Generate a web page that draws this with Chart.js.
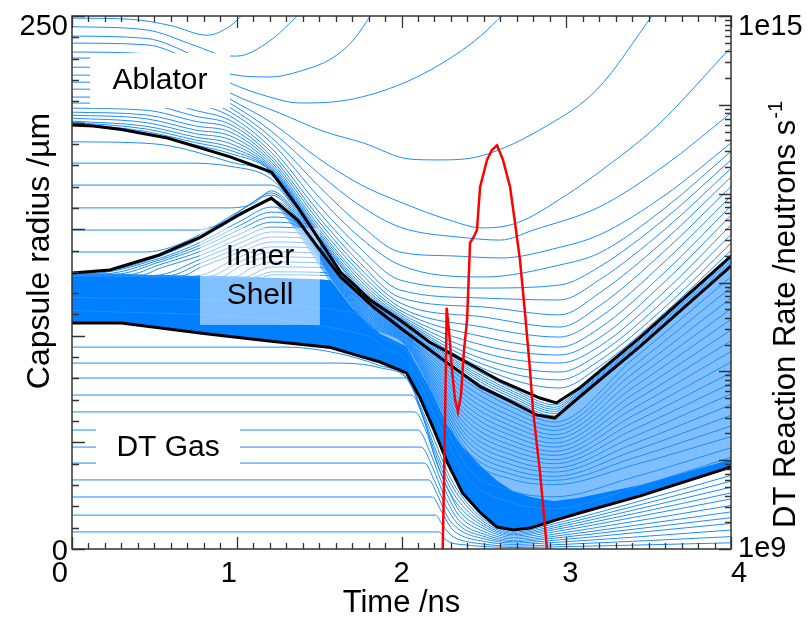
<!DOCTYPE html>
<html>
<head>
<meta charset="utf-8">
<title>Capsule implosion radius-time diagram</title>
<script src="https://cdn.jsdelivr.net/npm/chart.js@4.4.1/dist/chart.umd.min.js"></script>
<style>
  html, body { margin: 0; padding: 0; background: #fff; }
  #wrap { width: 806px; height: 617px; }
</style>
</head>
<body>
<div id="wrap"><canvas id="chart" width="806" height="617"></canvas></div>
<script>
// ---- Lagrangian cell boundaries, each as [time (ns), radius (µm)] pairs ----

// Ablator cells (outermost first)
const ablatorLines = [
  [[0,249],[0.35,248.5],[0.6,245.5],[0.82,241],[0.96,245.3],[1.04,251]],
  [[0,245],[0.45,243.5],[0.75,236],[0.92,231.5],[1.0,231.2],[1.2,238.3],[1.38,251]],
  [[0,240.6],[0.45,239.5],[0.75,231],[0.96,222.8],[1.2,221.4],[1.4,224.5],[1.57,229.8],[1.7,238],[1.82,251]],
  [[0,237.3],[0.45,236.5],[0.75,228],[0.96,218.6],[1.2,212],[1.38,209.2],[1.63,210.1],[1.97,217.2],[2.25,228],[2.48,240.6],[2.62,251]],
  [[0,233.1],[0.45,232.3],[0.75,224],[0.96,213.9],[1.26,204.5],[1.52,196.1],[1.77,190.4],[2.05,182.9],[2.22,182.5],[2.48,184.3],[2.88,198.4],[3.19,215.8],[3.53,251]],
  [[0,230.3],[0.45,229.5],[0.75,221],[0.96,211],[1.21,200],[1.5,183],[1.75,171],[1.99,162.8],[2.29,154.3],[2.49,150.6],[2.7,152.9],[3.0,166],[3.2,176.8],[3.55,198.4],[3.99,234.5]],
  [[0,226],[0.45,225.3],[0.75,217.5],[0.96,209],[1.21,196],[1.5,176],[1.75,161],[1.99,151],[2.4,145.9],[2.6,144.9],[2.8,149.6],[3.2,160.4],[3.6,180],[4.0,204.5]],
  [[0,222.3],[0.45,221.6],[0.75,214.5],[0.96,207],[1.21,193],[1.5,170],[1.75,152],[1.99,139.3],[2.3,137.5],[2.6,136.5],[2.96,141.5],[3.2,147.3],[3.6,166],[4.0,190.4]]
];

// Inner ablator cells sampled on a shared time grid
const ablatorTimes = [0, 0.45, 0.75, 0.96, 1.21, 1.5, 1.75, 1.99, 2.5, 2.96, 3.2, 3.6, 4.0];
const ablatorInner = [
  [219,   218.3, 212,   205,   190.5, 165,   146,   133.2, 127.6, 133.2, 138.8, 160,   186.5],
  [215.7, 215,   209,   203,   188,   161,   141,   126.2, 122.4, 123.8, 132.3, 155,   182.5],
  [212,   211.3, 205.7, 201,   186,   158,   137,   121.5, 117.7, 116.8, 126.2, 150,   178.5],
  [209.2, 208.4, 203,   199.2, 184.3, 155.5, 134,   118,   113.5, 109.8, 120,   145,   174.5],
  [206.8, 205.8, 200.6, 197.4, 182.8, 153.5, 131.5, 115.5, 108.8, 104.1, 114,   140,   170],
  [204.9, 203.6, 198.4, 195.6, 181.5, 151.5, 129.5, 113.5, 104,   99.4,  108.5, 135,   165.5],
  [203.5, 201.8, 196.5, 193.8, 180.3, 150,   127.5, 112,   99.5,  94.7,  103.5, 130,   161],
  [202.1, 200,   194.8, 192,   179.3, 148.8, 126,   110.8, 95.5,  91,    99,    125.5, 156.5],
  [200.7, 198.3, 193.2, 190.2, 178.5, 147.8, 124.5, 109.8, 92,    87.2,  95,    121,   152],
  [200.2, 197,   191.8, 188.5, 177.9, 147,   123.3, 109,   89,    83,    91.5,  117,   147.5],
  [199.8, 195.8, 190.6, 187,   177.4, 146.3, 122.3, 108.4, 86.5,  79.3,  88.3,  113.5, 143.5],
  [199.4, 194.7, 189.5, 185.5, 177.1, 145.8, 121.6, 107.9, 84.5,  75.5,  85.5,  111,   140]
];

// Low-density cushion between ablator and inner shell
const cushionLines = [
  [[0,191],[0.4,190.5],[0.6,189],[0.96,181.5],[1.21,175.5],[1.37,159.5],[1.49,145.6],[1.63,129.6],[1.83,115.5],[2.01,105.8],[2.28,91.7],[2.48,82.8],[2.68,75.0],[2.93,67.6],[3.08,74.9],[3.45,98.8],[4,136.7]],
  [[0,181],[0.7,181],[0.96,179.5],[1.21,173.5],[1.37,158.7],[1.49,145.0],[1.63,129.2],[1.83,115.1],[2.01,105.3],[2.28,90.9],[2.48,81.6],[2.68,73.9],[2.93,66.5],[3.08,74.3],[3.45,98.2],[4,136.1]],
  [[0,170.7],[0.9,170.7],[1.21,170.7],[1.37,157.8],[1.49,144.3],[1.63,128.9],[1.83,114.8],[2.01,104.8],[2.28,90.2],[2.48,80.5],[2.68,72.9],[2.93,65.5],[3.08,73.7],[3.45,97.6],[4,135.4]],
  [[0,160],[0.95,160],[1.1,162],[1.21,168],[1.37,156.9],[1.49,143.7],[1.63,128.6],[1.83,114.5],[2.01,104.2],[2.28,89.4],[2.48,79.4],[2.68,71.8],[2.93,64.5],[3.08,73.1],[3.45,97],[4,134.7]],
  [[0,149.6],[0.75,149.6],[0.9,152.5],[1.05,160],[1.21,167],[1.37,156],[1.49,143],[1.63,128.3],[1.83,114.2],[2.01,103.7],[2.28,88.7],[2.48,78.3],[2.68,70.7],[2.93,63.5],[3.08,72.5],[3.45,96.4],[4,134]],
  [[0,139.3],[0.45,139.3],[0.6,141.5],[0.8,148.5],[1.0,157.8],[1.21,166],[1.37,155.2],[1.49,142.4],[1.63,127.9],[1.83,113.8],[2.01,103.2],[2.28,87.9],[2.48,77.1],[2.68,69.6],[2.93,62.4],[3.08,71.9],[3.45,95.8],[4,133.4]]
];

// Inner shell cells that expand out of the dense layer
const shellLines = [
  [[0,129.4],[0.23,130.6],[0.53,137.3],[0.78,145.6],[1.02,156.3],[1.21,163.7],[1.6,130.2],[1.8,115.0],[2.03,101.2],[2.2,90.6],[2.4,78.2],[2.68,66.3],[2.93,59.5],[3.4,88.7],[4,127.7]],
  [[0,129.3],[0.1,129.2],[0.53,136.3],[0.78,143.9],[1.02,153.7],[1.21,160.4],[1.25,160.1],[1.6,129.8],[1.8,114.3],[2.03,100.8],[2.2,89.3],[2.4,75.9],[2.68,64.0],[2.93,57.5],[3.4,85.4],[4,122.7]],
  [[0,129.2],[0.18,129],[0.53,135.5],[0.78,142.6],[1.02,151.8],[1.21,158],[1.273,157.7],[1.6,129.3],[1.8,113.7],[2.03,100.4],[2.2,88.1],[2.4,73.6],[2.68,61.8],[2.93,55.6],[3.4,82.1],[4,117.7]],
  [[0,129.1],[0.26,128.9],[0.53,134.6],[0.78,141.3],[1.02,149.9],[1.21,155.7],[1.296,155.4],[1.6,128.9],[1.8,113],[2.03,100],[2.2,86.8],[2.4,71.3],[2.68,59.5],[2.93,53.6],[3.4,78.8],[4,112.7]],
  [[0,129],[0.34,128.7],[0.53,133.3],[0.78,139.6],[1.02,147.8],[1.21,153.3],[1.319,153],[1.6,128.5],[1.8,112.4],[2.03,99.6],[2.2,85.6],[2.4,69],[2.68,57.3],[2.93,51.7],[3.4,75.5],[4,107.7]],
  [[0,128.9],[0.42,128.5],[0.53,131.6],[0.78,137.7],[1.02,145.6],[1.21,151],[1.341,150.7],[1.6,128.1],[1.8,111.7],[2.03,99.2],[2.2,84.3],[2.4,66.7],[2.68,55],[2.93,49.7],[3.4,72.2],[4,102.7]],
  [[0,128.8],[0.5,128.3],[0.78,135.9],[1.02,143.5],[1.21,148.7],[1.363,148.4],[1.6,127.7],[1.8,111.1],[2.03,98.8],[2.2,83.1],[2.4,64.4],[2.68,52.8],[2.93,47.8],[3.4,68.9],[4,97.7]],
  [[0,128.7],[0.58,128.2],[0.78,134],[1.02,141.3],[1.21,146.3],[1.386,146],[1.6,127.2],[1.8,110.4],[2.03,98.4],[2.2,81.8],[2.4,62.1],[2.68,50.5],[2.93,45.8],[3.4,65.6],[4,92.7]],
  [[0,128.6],[0.66,128],[0.78,132.1],[1.02,139.2],[1.21,144],[1.408,143.7],[1.6,126.8],[1.8,109.8],[2.03,98],[2.2,80.6],[2.4,59.8],[2.68,48.3],[2.93,43.9],[3.4,62.3],[4,87.7]],
  [[0,128.5],[0.74,127.9],[1.02,137.1],[1.21,141.7],[1.43,141.4],[1.6,126.4],[1.8,109.1],[2.03,97.6],[2.2,79.3],[2.4,57.5],[2.68,46],[2.93,41.9],[3.4,59],[4,82.7]],
  [[0,128.4],[0.82,127.8],[1.02,134.8],[1.21,139.3],[1.453,139],[1.6,126],[1.8,108.5],[2.03,97.2],[2.2,78.1],[2.4,55.2],[2.68,43.8],[2.93,40],[3.4,55.7],[4,77.7]],
  [[0,128.3],[0.9,127.7],[1.02,132.6],[1.21,137],[1.475,136.7],[1.6,125.6],[1.8,107.8],[2.03,96.8],[2.2,76.8],[2.4,52.9],[2.68,41.5],[2.93,38],[3.4,52.4],[4,72.7]],
  [[0,128.2],[0.98,127.6],[1.1,132.2],[1.21,134.6],[1.498,134.3],[1.6,125.1],[1.8,107.2],[2.03,96.4],[2.2,75.6],[2.4,50.6],[2.68,39.3],[2.93,36.1],[3.4,49.1],[4,67.7]],
  [[0,128.1],[1.04,127.5],[1.21,132.3],[1.52,132],[1.6,124.7],[1.8,106.5],[2.03,96],[2.2,74.3],[2.4,48.3],[2.68,37],[2.93,34.1],[3.4,45.8],[4,62.7]],
  [[0,128],[1.1,127.4],[1.21,130],[1.542,129.7],[1.6,124.3],[1.8,105.9],[2.03,95.6],[2.2,73.1],[2.4,46],[2.68,34.8],[2.93,32.2],[3.4,42.5],[4,57.7]],
  [[0,127.9],[1.15,127.3],[1.21,128.6],[1.556,128.3],[1.6,123.9],[1.8,105.2],[2.03,95.2],[2.2,71.8],[2.4,43.7],[2.68,32.5],[2.93,30.2],[3.4,39.2],[4,52.7]],
  [[0,118],[1.7,111],[1.87,99.5],[2.03,92.5],[2.2,68],[2.4,38.5],[2.68,27],[2.93,24.5],[3.4,33.5],[4,47.5]],
  [[0,112],[1.8,100],[1.9,94],[2.03,89],[2.2,63],[2.4,33.5],[2.68,21.5],[2.93,19],[3.4,28.5],[4,43]]
];

// DT gas cells
const gasLines = [
  [[0,94.7],[1.3,94.7],[1.6,92],[1.87,86],[2.03,80.5],[2.11,68],[2.2,51],[2.28,36],[2.35,26.5],[2.5,13.9],[2.68,7.9],[2.93,11.9],[3.4,21.5],[4,34.5]],
  [[0,87.2],[1.6,87.2],[1.87,85],[2.04,79],[2.12,65],[2.2,48],[2.28,33.5],[2.35,24.5],[2.5,12.8],[2.68,7.3],[2.93,10.9],[3.4,19.8],[4,31.8]],
  [[0,80.2],[2.04,80.2],[2.12,64],[2.2,46],[2.28,31],[2.35,22.2],[2.5,11.7],[2.68,6.7],[2.93,10],[3.4,18.1],[4,29]],
  [[0,72.2],[2.06,72.2],[2.13,62],[2.2,44],[2.28,28.5],[2.35,20],[2.5,10.6],[2.68,6.1],[2.93,9.1],[3.4,16.4],[4,26.3]],
  [[0,64.3],[2.08,64.3],[2.15,55],[2.22,39],[2.3,25],[2.35,18],[2.5,9.5],[2.68,5.4],[2.93,8.1],[3.4,14.7],[4,23.5]],
  [[0,55.8],[2.1,55.8],[2.17,46],[2.24,32],[2.3,22],[2.35,15.6],[2.5,8.2],[2.68,4.7],[2.93,7],[3.4,12.8],[4,20.4]],
  [[0,47.8],[2.12,47.8],[2.19,38],[2.26,25],[2.35,13.3],[2.5,7],[2.68,4],[2.93,6],[3.4,10.9],[4,17.4]],
  [[0,40.3],[2.14,40.3],[2.2,32],[2.27,20],[2.35,11.2],[2.5,5.9],[2.68,3.4],[2.93,5.1],[3.4,9.2],[4,14.7]],
  [[0,32.4],[2.165,32.4],[2.22,25],[2.28,15],[2.35,9.1],[2.5,4.8],[2.68,2.8],[2.93,4.1],[3.4,7.5],[4,12]],
  [[0,24.4],[2.186,24.4],[2.24,18],[2.3,10],[2.35,6.8],[2.5,3.6],[2.68,2.1],[2.93,3.1],[3.4,5.5],[4,8.9]],
  [[0,15.9],[2.207,15.9],[2.25,11],[2.3,6.5],[2.35,4.4],[2.5,2.3],[2.68,1.3],[2.93,2],[3.4,3.6],[4,5.8]],
  [[0,8],[2.229,8],[2.26,5],[2.3,3],[2.35,2.2],[2.5,1.2],[2.68,0.7],[2.93,1],[3.4,1.8],[4,2.9]]
];

// Material interfaces (bold curves)
const ablatorInterface = [[0,198.9],[0.13,198.4],[0.3,196.8],[0.58,192.8],[0.96,183.9],[1.21,176.8],[1.37,160.4],[1.49,146.3],[1.63,129.9],[1.81,116.8],[1.99,107.4],[2.17,97.1],[2.39,87.7],[2.6,78.8],[2.84,70.8],[2.94,68.5],[3.08,75.5],[3.45,99.4],[4.0,137.4]];
const shellOuter = [[0,129.5],[0.23,130.9],[0.53,137.9],[0.78,146.3],[1.02,157.1],[1.21,164.6],[1.37,154.3],[1.49,141.7],[1.63,127.6],[1.83,113.5],[2.01,102.7],[2.28,87.2],[2.48,76.0],[2.68,68.5],[2.82,62.9],[2.93,61.4],[3.08,71.3],[3.45,95.2],[4.0,132.7]];

// Gas/shell interface and the dense shell core, on a common time grid
const coreTimes  = [0, 0.3, 0.8, 1.21, 1.5, 1.57, 1.7, 1.87, 2.03, 2.11, 2.19, 2.28, 2.37, 2.48, 2.58, 2.68, 2.78, 2.88, 2.93, 3.08, 3.45, 4.0];
const shellInner = [106, 106, 101.1, 97.4, 95.1, 94.5, 91.5, 87.7, 82.6, 71.3, 57.2, 40.3, 26.3, 16.9, 10.3, 8.9, 9.8, 12.2, 13.4, 16.9, 24.9, 38.5];
const coreTop    = [129.5, 128.8, 127.8, 127.2, 126.5, 126, 113, 101, 95, 84, 72.5, 58, 48, 39, 32, 27, 24.5, 23, 22.5, 24, 30, 42];

// Compressed shell layer behind the inward shock
const layerTimes = [1.21, 1.37, 1.49, 1.57, 1.7, 1.87, 2.03, 2.11, 2.19, 2.28, 2.37, 2.48, 2.58, 2.68, 2.78, 2.88, 2.93, 3.08, 3.45, 4.0];
const layerOuter = [164.6, 154.3, 141.7, 133.6, 122.7, 111.1, 101.6, 97, 92.4, 87.2, 82.2, 76, 72.3, 68.5, 64.5, 62.1, 61.4, 71.3, 95.2, 132.7];
const layerInner = [164.6, 148, 134, 124.5, 110.5, 99, 93.5, 82.5, 71, 56.5, 46.5, 37.5, 30.5, 25.5, 23, 21.5, 21, 22.5, 28.5, 40.5];

// DT reaction rate (neutrons/s)
const burnTime = [2.249, 2.258, 2.270, 2.274, 2.288, 2.307, 2.325, 2.343, 2.361, 2.379, 2.398, 2.410, 2.416, 2.440, 2.458, 2.477, 2.519, 2.549, 2.580, 2.616, 2.659, 2.689, 2.719, 2.750, 2.780, 2.798, 2.841, 2.883, 2.890];
const burnRate = [7.5e8, 6e9, 1.34e11, 5.2e11, 2.9e11, 1.0e11, 4.8e10, 3.5e10, 5.4e10, 1.7e11, 3.8e11, 1.4e12, 2.8e12, 3.3e12, 3.9e12, 1.19e13, 2.4e13, 3.1e13, 3.5e13, 2.4e13, 1.19e13, 4.7e12, 1.8e12, 4.5e11, 1.04e11, 3.7e10, 7.2e9, 1e9, 7.5e8];

// Region labels: text lines, box (t0, t1, r0, r1), box opacity
const regionLabels = [
  { lines: ['Ablator'], box: [0.109, 0.959, 206.8, 232.6], alpha: 1 },
  { lines: ['Inner', 'Shell'], box: [0.777, 1.505, 105.1, 150.6], alpha: 0.5 },
  { lines: ['DT Gas'], box: [0.146, 1.02, 35.2, 59.6], alpha: 1 }
];

// axis tick labels
const timeLabels = { 0: '0   ', 1: '1  ', 2: '2', 3: ' 3', 4: '  4' };
const radiusLabels = { 0: '0', 250: ['', '250'] };

const FONT = '"Liberation Sans", Arial, Helvetica, sans-serif';
const BLUE = 'rgb(30,140,255)';
const CORE = 'rgb(0,128,255)';

const toPts = arr => arr.map(([t, r]) => ({ x: t, y: r }));
const zipPts = (ts, rs) => ts.map((t, i) => ({ x: t, y: rs[i] }));

const datasets = [];
function addLine(points, opts) {
  datasets.push(Object.assign({
    data: points, yAxisID: 'y', borderColor: BLUE, borderWidth: 1,
    pointRadius: 0, fill: false, cubicInterpolationMode: 'monotone', order: 40
  }, opts || {}));
  return datasets.length - 1;
}
const straight = { tension: 0, cubicInterpolationMode: 'default' };
const hidden = { borderWidth: 0, borderColor: 'rgba(0,0,0,0)' };

// bold gas/shell interface first so the fills can target it
const innerIdx = addLine(zipPts(coreTimes, shellInner), Object.assign({ borderColor: '#000', borderWidth: 3, order: 20 }, straight));
addLine(zipPts(coreTimes, coreTop), Object.assign({ backgroundColor: CORE, fill: { target: innerIdx }, order: 50 }, hidden, straight));
const layerLowIdx = addLine(zipPts(layerTimes, layerInner), Object.assign({ order: 52 }, hidden, straight));
addLine(zipPts(layerTimes, layerOuter), Object.assign({ backgroundColor: 'rgba(0,128,255,0.5)', fill: { target: layerLowIdx }, order: 51 }, hidden, straight));

ablatorLines.forEach(l => addLine(toPts(l)));
ablatorInner.forEach(rs => addLine(zipPts(ablatorTimes, rs)));
cushionLines.forEach(l => addLine(toPts(l)));
shellLines.forEach(l => addLine(toPts(l)));
gasLines.forEach(l => addLine(toPts(l)));

// marker dataset: region labels are painted right after it
datasets.push({ label: 'region-labels', data: [], yAxisID: 'y', order: 30, pointRadius: 0, borderWidth: 0 });

addLine(toPts(ablatorInterface), Object.assign({ borderColor: '#000', borderWidth: 3, order: 20 }, straight));
addLine(toPts(shellOuter), Object.assign({ borderColor: '#000', borderWidth: 3, order: 20 }, straight));

addLine(zipPts(burnTime, burnRate), Object.assign({ yAxisID: 'y2', borderColor: 'rgb(255,0,0)', borderWidth: 2.5, order: 5 }, straight));

const regionLabelPlugin = {
  id: 'regionLabels',
  afterDatasetDraw(chart, args) {
    if (chart.data.datasets[args.index].label !== 'region-labels') return;
    const { ctx, scales: { x, y } } = chart;
    ctx.save();
    regionLabels.forEach(lab => {
      const [t0, t1, r0, r1] = lab.box;
      const x0 = x.getPixelForValue(t0), x1 = x.getPixelForValue(t1);
      const y0 = y.getPixelForValue(r1), y1 = y.getPixelForValue(r0);
      ctx.fillStyle = `rgba(255,255,255,${lab.alpha})`;
      ctx.fillRect(x0, y0, x1 - x0, y1 - y0);
      ctx.fillStyle = '#000';
      ctx.font = `30px ${FONT}`;
      ctx.textAlign = 'center';
      ctx.textBaseline = 'middle';
      const cx = (x0 + x1) / 2, cy = (y0 + y1) / 2;
      const step = 39;
      lab.lines.forEach((s, i) => {
        ctx.fillText(s, cx, cy + (i - (lab.lines.length - 1) / 2) * step);
      });
    });
    ctx.restore();
  }
};

const frameAndTitles = {
  id: 'frameAndTitles',
  afterDraw(chart) {
    const { ctx, chartArea: a, scales } = chart;
    ctx.save();
    ctx.strokeStyle = '#333';
    ctx.lineWidth = 1.3;
    ctx.beginPath();
    for (let k = 0; k <= 40; k++) {
      const px = Math.round(scales.x.getPixelForValue(k / 10)) + 0.5;
      const len = k % 10 === 0 ? 12 : 6;
      ctx.moveTo(px, a.bottom); ctx.lineTo(px, a.bottom - len);
      ctx.moveTo(px, a.top); ctx.lineTo(px, a.top + len);
    }
    for (let k = 0; k <= 25; k++) {
      const py = Math.round(scales.y.getPixelForValue(k * 10)) + 0.5;
      const len = k % 5 === 0 ? 13 : 7;
      ctx.moveTo(a.left, py); ctx.lineTo(a.left + len, py);
    }
    for (let e = 9; e <= 15; e++) {
      for (let m = 1; m <= 9; m++) {
        if (e === 15 && m > 1) break;
        const py = Math.round(scales.y2.getPixelForValue(m * Math.pow(10, e))) + 0.5;
        const len = m === 1 ? 12 : 6;
        ctx.moveTo(a.right, py); ctx.lineTo(a.right - len, py);
      }
    }
    ctx.stroke();
    ctx.lineWidth = 1.5;
    ctx.strokeRect(a.left, a.top, a.right - a.left, a.bottom - a.top);

    // axis titles
    ctx.fillStyle = '#000';
    ctx.font = `31px ${FONT}`;
    ctx.textAlign = 'center';
    ctx.textBaseline = 'middle';
    ctx.fillText('Time /ns', (a.left + a.right) / 2, 603);

    ctx.save();
    ctx.translate(40, 251);
    ctx.rotate(-Math.PI / 2);
    ctx.font = `32px ${FONT}`;
    ctx.fillText('Capsule radius /\u00B5m', 0, 0);
    ctx.restore();

    ctx.save();
    ctx.translate(786, 528);
    ctx.rotate(-Math.PI / 2);
    ctx.textAlign = 'left';
    const main = 'DT Reaction Rate /neutrons s';
    ctx.fillText(main, 0, 0);
    const w = ctx.measureText(main).width;
    ctx.font = `20px ${FONT}`;
    ctx.fillText('-1', w + 1, -10);
    ctx.restore();

    ctx.restore();
  }
};

new Chart(document.getElementById('chart'), {
  type: 'line',
  data: { datasets },
  options: {
    responsive: false,
    devicePixelRatio: 1,
    animation: false,
    events: [],
    layout: { padding: { top: 16, left: 0, right: 0, bottom: 0 } },
    plugins: { legend: { display: false }, tooltip: { enabled: false }, filler: { propagate: false } },
    scales: {
      x: {
        type: 'linear', min: 0, max: 4, position: 'bottom',
        grid: { display: false, drawTicks: false }, border: { display: false },
        ticks: {
          stepSize: 1, autoSkip: false, maxRotation: 0, padding: 8,
          color: '#000', font: { size: 29, family: FONT },
          callback: v => (timeLabels[v] !== undefined ? timeLabels[v] : '')
        },
        afterFit: s => { s.height = 68; s.paddingLeft = 0; s.paddingRight = 0; }
      },
      y: {
        type: 'linear', min: 0, max: 250, position: 'left',
        grid: { display: false, drawTicks: false }, border: { display: false },
        ticks: {
          stepSize: 250, autoSkip: false, padding: 4, labelOffset: 3,
          color: '#000', font: { size: 29, family: FONT, lineHeight: 0.55 },
          callback: v => (radiusLabels[v] !== undefined ? radiusLabels[v] : '')
        },
        afterFit: s => { s.width = 72; s.paddingTop = 0; s.paddingBottom = 0; }
      },
      y2: {
        type: 'logarithmic', min: 1e9, max: 1e15, position: 'right',
        grid: { display: false, drawTicks: false }, border: { display: false },
        ticks: {
          autoSkip: false, padding: 7, labelOffset: 0,
          color: '#000', font: { size: 29, family: FONT, lineHeight: 0.76 },
          callback: v => {
            const e = Math.log10(v);
            if (Math.abs(e - 9) < 1e-6) return '1e9';
            if (Math.abs(e - 15) < 1e-6) return ['', '1e15'];
            return '';
          }
        },
        afterFit: s => { s.width = 75; s.paddingTop = 0; s.paddingBottom = 0; }
      }
    }
  },
  plugins: [regionLabelPlugin, frameAndTitles]
});
</script>
</body>
</html>
